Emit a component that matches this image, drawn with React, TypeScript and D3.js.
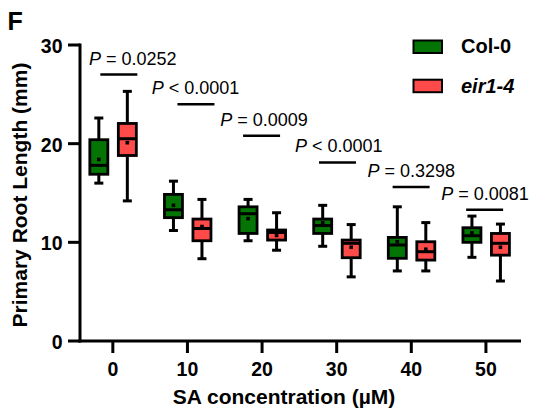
import React from "react";
import * as d3 from "d3";

const concentrations = [0, 10, 20, 30, 40, 50];
const seriesNames = ["Col-0", "eir1-4"];

const col0Min = [16.0, 11.2, 10.16, 9.6, 7.1, 8.48];
const col0Q1 = [16.9, 12.5, 10.9, 10.9, 8.38, 10.0];
const col0Median = [17.8, 13.3, 12.9, 11.7, 9.73, 10.67];
const col0Q3 = [20.4, 14.86, 13.6, 12.36, 10.5, 11.48];
const col0Max = [22.6, 16.2, 14.35, 13.75, 13.6, 12.66];
const col0Mean = [18.4, 13.75, 12.4, 12.0, 10.06, 10.97];

const eirMin = [14.2, 8.34, 9.2, 6.5, 7.1, 6.08];
const eirQ1 = [18.8, 10.16, 10.23, 8.44, 8.2, 8.7];
const eirMedian = [20.5, 11.4, 11.0, 9.9, 9.05, 9.9];
const eirQ3 = [22.05, 12.36, 11.25, 10.23, 10.06, 10.9];
const eirMax = [25.3, 14.35, 13.0, 11.8, 12.0, 11.85];
const eirMean = [20.1, 11.6, 10.7, 9.5, 9.3, 9.5];

const pRelations = ["=", "<", "=", "<", "=", "="];
const pValues = ["0.0252", "0.0001", "0.0009", "0.0001", "0.3298", "0.0081"];
const pBarLevel = [27.0, 24.0, 20.8, 18.1, 15.6, 13.3];

const yTicks = [0, 10, 20, 30];

// layout nudges (pixels)
const barShift = [6, 8.5, -0.5, 0.8, -0.2, -1.3];
const labelShift = [20, 8, 2, 2, 0, -1];

const FONT = "'Liberation Sans', Arial, Helvetica, sans-serif";
const GREEN = "#047504";
const RED = "#ff4a4a";

export default function App() {
  const W = 555;
  const H = 416;
  const y = d3.scaleLinear().domain([0, 30]).range([341, 45]);
  const x = d3.scaleLinear().domain([-4.4, 54.7]).range([80, 521]);
  const inner = d3.scalePoint<string>().domain(seriesNames).range([-14, 14.5]);
  const boxW = 18;
  const capW = 9;

  const series = [
    { name: "Col-0", fill: GREEN, min: col0Min, q1: col0Q1, med: col0Median, q3: col0Q3, max: col0Max, mean: col0Mean },
    { name: "eir1-4", fill: RED, min: eirMin, q1: eirQ1, med: eirMedian, q3: eirQ3, max: eirMax, mean: eirMean },
  ];

  const x0 = x.range()[0];
  const x1 = x.range()[1];
  const yBase = y(0);

  return (
    <div style={{ position: "absolute", left: 0, top: 0 }}>
      <svg width={W} height={H} style={{ display: "block", background: "#fff" }} fontFamily={FONT}>
        <text x={7.5} y={29.5} fontSize={25} fontWeight="bold">F</text>

        {/* y axis */}
        <line x1={x0} x2={x0} y1={y(30) - 1.5} y2={yBase + 1.5} stroke="#000" strokeWidth={3} />
        {yTicks.map((t) => (
          <g key={t}>
            <line x1={x0 - 12} x2={x0} y1={y(t)} y2={y(t)} stroke="#000" strokeWidth={3} />
            <text x={62.5} y={y(t) + 8} textAnchor="end" fontSize={19.5} fontWeight="bold">{t}</text>
          </g>
        ))}
        <text
          transform={`translate(27,${195}) rotate(-90)`}
          textAnchor="middle"
          fontSize={21}
          fontWeight="bold"
        >
          Primary Root Length (mm)
        </text>

        {/* x axis */}
        <line x1={x0 - 1.5} x2={x1} y1={yBase} y2={yBase} stroke="#000" strokeWidth={3} />
        {concentrations.map((c) => (
          <g key={c}>
            <line x1={x(c)} x2={x(c)} y1={yBase} y2={yBase + 12} stroke="#000" strokeWidth={3} />
            <text x={x(c)} y={376} textAnchor="middle" fontSize={19.5} fontWeight="bold">{c}</text>
          </g>
        ))}
        <text x={284} y={404} textAnchor="middle" fontSize={21} fontWeight="bold">
          SA concentration (µM)
        </text>

        {/* boxes */}
        {series.map((s) =>
          concentrations.map((c, i) => {
            const cx = x(c) + (inner(s.name) as number);
            return (
              <g key={s.name + c}>
                <line x1={cx} x2={cx} y1={y(s.max[i])} y2={y(s.q3[i])} stroke="#000" strokeWidth={3} />
                <line x1={cx} x2={cx} y1={y(s.q1[i])} y2={y(s.min[i])} stroke="#000" strokeWidth={3} />
                <line x1={cx - capW / 2} x2={cx + capW / 2} y1={y(s.max[i])} y2={y(s.max[i])} stroke="#000" strokeWidth={3} />
                <line x1={cx - capW / 2} x2={cx + capW / 2} y1={y(s.min[i])} y2={y(s.min[i])} stroke="#000" strokeWidth={3} />
                <rect
                  x={cx - boxW / 2}
                  y={y(s.q3[i])}
                  width={boxW}
                  height={y(s.q1[i]) - y(s.q3[i])}
                  fill={s.fill}
                  stroke="#000"
                  strokeWidth={2.8}
                />
                <line x1={cx - boxW / 2} x2={cx + boxW / 2} y1={y(s.med[i])} y2={y(s.med[i])} stroke="#000" strokeWidth={3} />
                <rect x={cx - 1.8} y={y(s.mean[i]) - 1.8} width={3.6} height={3.6} fill="#000" />
              </g>
            );
          })
        )}

        {/* significance */}
        {concentrations.map((c, i) => {
          const bc = x(c) + barShift[i];
          const by = y(pBarLevel[i]);
          return (
            <g key={"p" + c}>
              <line x1={bc - 18.5} x2={bc + 18.5} y1={by} y2={by} stroke="#000" strokeWidth={2.5} />
              <text x={x(c) + labelShift[i]} y={by - 10} textAnchor="middle" fontSize={18}>
                <tspan fontStyle="italic">P</tspan>
                {` ${pRelations[i]} ${pValues[i]}`}
              </text>
            </g>
          );
        })}

        {/* legend */}
        {series.map((s, i) => (
          <g key={"lg" + s.name}>
            <rect x={413.5} y={40.5 + i * 39.2} width={28.5} height={12.5} fill={s.fill} stroke="#000" strokeWidth={2} />
            <text
              x={461}
              y={53 + i * 39.7}
              fontSize={20}
              fontWeight="bold"
              fontStyle={i === 1 ? "italic" : "normal"}
            >
              {s.name}
            </text>
          </g>
        ))}
      </svg>
    </div>
  );
}
